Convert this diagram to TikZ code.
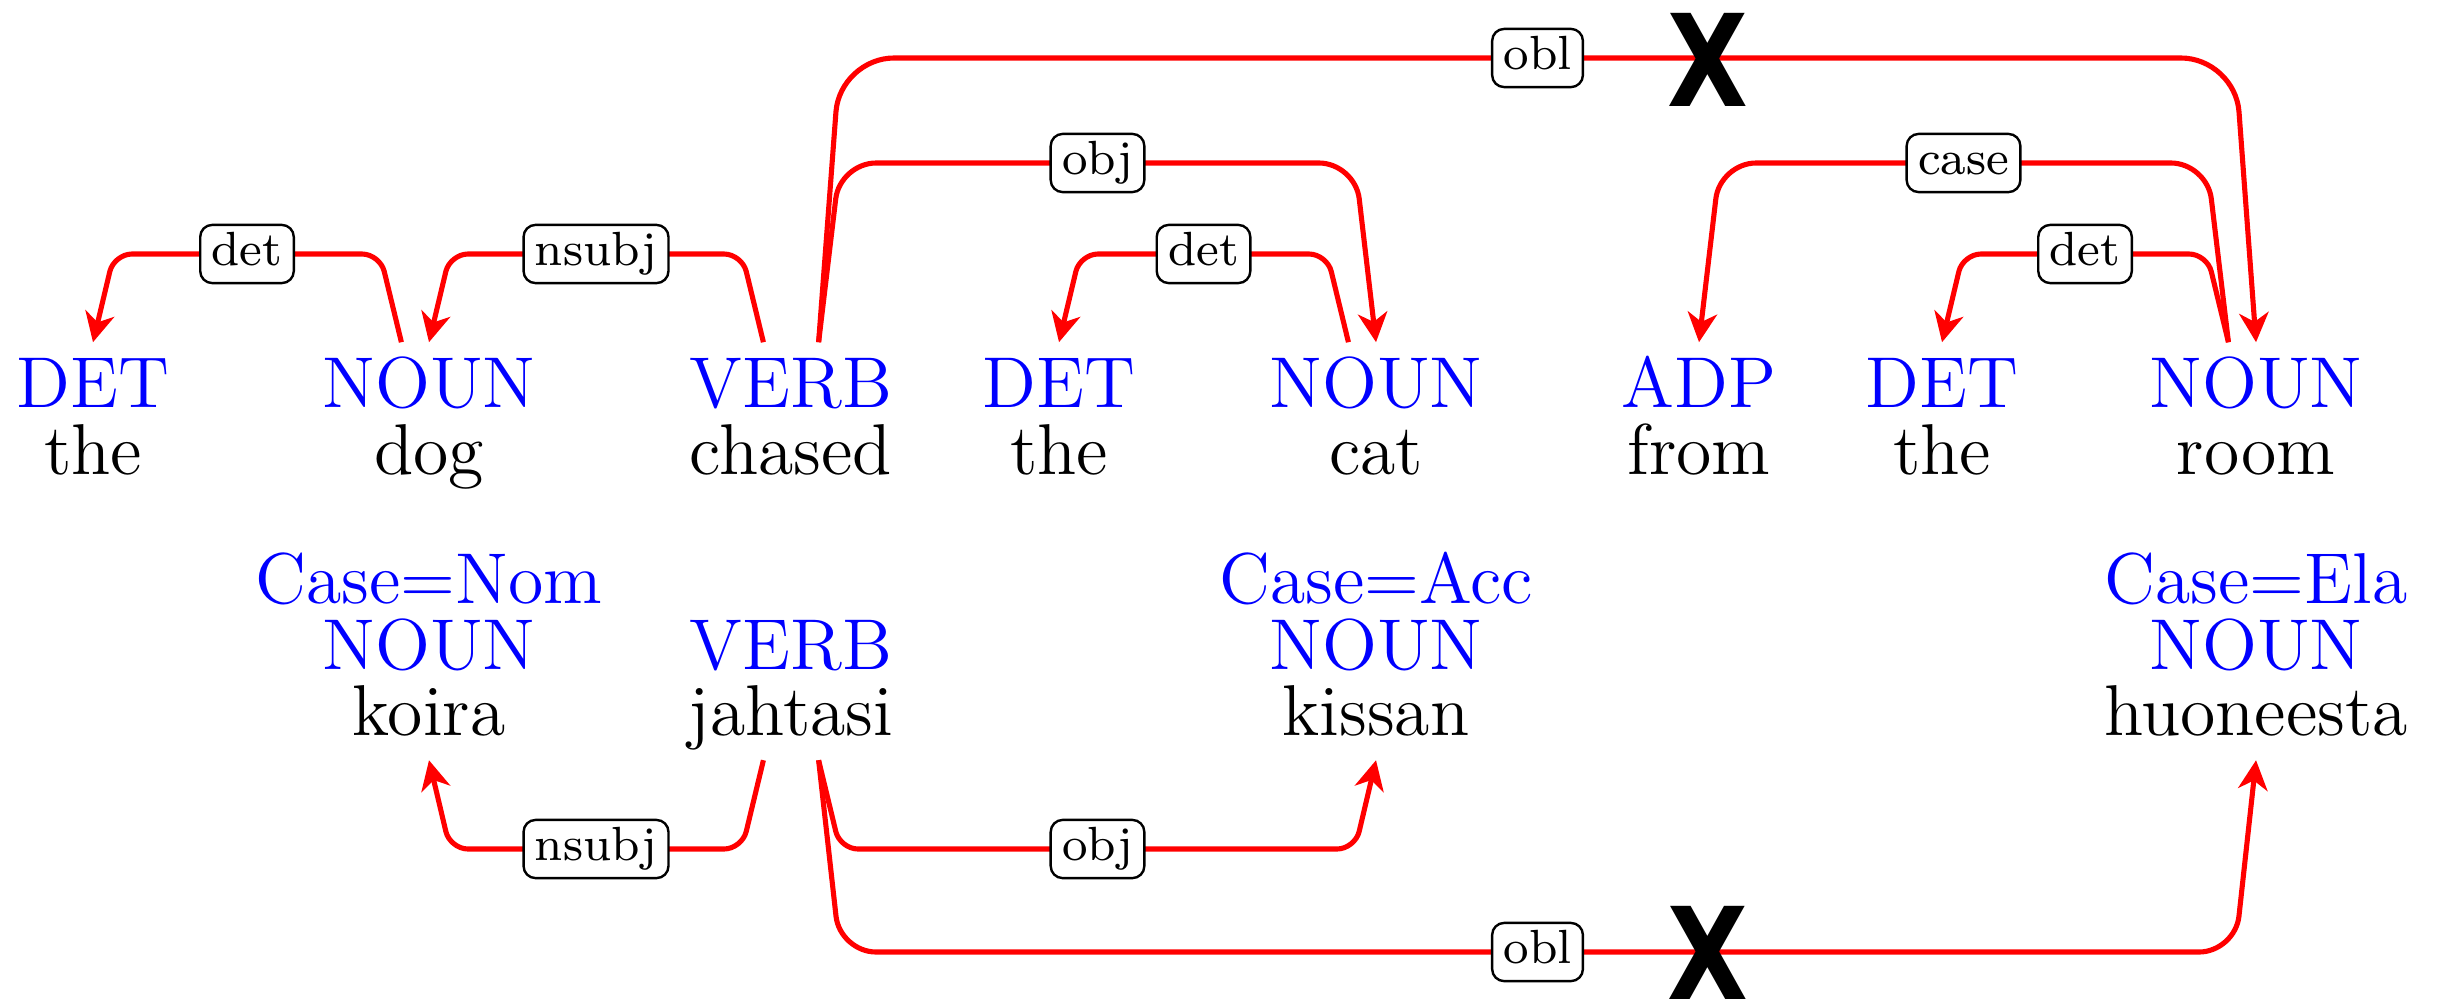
\documentclass[tikz,border=0pt]{standalone}
\usepackage{fontspec}
\newfontfamily\crossfont{DejaVu Sans}
\usetikzlibrary{arrows.meta}

\begin{document}
\begin{tikzpicture}[x=16.667pt, y=-16.667pt,
    tag/.style={blue, font=\large, anchor=base, text height=8.2pt, inner xsep=0pt, inner ysep=2.4pt},
    word/.style={font=\large, anchor=base, text depth=2.4pt, inner xsep=0pt, inner ysep=1.6pt},
    feat/.style={blue, font=\large, anchor=base},
    dep/.style={red, line width=0.85pt, -{Stealth[length=4.9pt, width=4.9pt, inset=1.5pt]}},
    deplabel/.style={draw=black, fill=white, text=black, rounded corners=2pt, font=\footnotesize, line width=0.4pt,
      inner xsep=1.9pt, inner ysep=1.2pt, text height=5.6pt, text depth=1.7pt},
    nogo/.style={font={\crossfont\bfseries\fontsize{21.3}{24}\selectfont}, inner sep=0pt}]
    \useasboundingbox (0,0) rectangle (24.38,10.02);

    % English sentence
    \node[tag] (p1) at (0.93,4.07) {DET};
    \node[word] (w1) at (0.93,4.74) {the};
    \node[tag] (p2) at (4.29,4.07) {NOUN};
    \node[word] (w2) at (4.29,4.74) {dog};
    \node[tag] (p3) at (7.91,4.07) {VERB};
    \node[word] (w3) at (7.91,4.74) {chased};
    \node[tag] (p4) at (10.59,4.07) {DET};
    \node[word] (w4) at (10.59,4.74) {the};
    \node[tag] (p5) at (13.76,4.07) {NOUN};
    \node[word] (w5) at (13.76,4.74) {cat};
    \node[tag] (p6) at (16.99,4.07) {ADP};
    \node[word] (w6) at (16.99,4.74) {from};
    \node[tag] (p7) at (19.42,4.07) {DET};
    \node[word] (w7) at (19.42,4.74) {the};
    \node[tag] (p8) at (22.56,4.07) {NOUN};
    \node[word] (w8) at (22.56,4.74) {room};

    % Finnish sentence
    \node[feat] (f2) at (4.29,6.03) {Case=Nom};
    \node[tag] (q2) at (4.29,6.69) {NOUN};
    \node[word] (b2) at (4.29,7.35) {koira};
    \node[tag] (q3) at (7.91,6.69) {VERB};
    \node[word] (b3) at (7.91,7.35) {jahtasi};
    \node[feat] (f5) at (13.76,6.03) {Case=Acc};
    \node[tag] (q5) at (13.76,6.69) {NOUN};
    \node[word] (b5) at (13.76,7.35) {kissan};
    \node[feat] (f8) at (22.56,6.03) {Case=Ela};
    \node[tag] (q8) at (22.56,6.69) {NOUN};
    \node[word] (b8) at (22.56,7.35) {huoneesta};

    % arcs above
    \draw[dep, rounded corners=3pt] ([xshift=-4.6pt]p2.north) -- (3.80,2.54) -- node[deplabel] {det} (1.14,2.54) -- (p1.north);
    \draw[dep, rounded corners=3pt] ([xshift=-4.6pt]p3.north) -- (7.42,2.54) -- node[deplabel] {nsubj} (4.50,2.54) -- (p2.north);
    \draw[dep, rounded corners=3pt] ([xshift=-4.6pt]p5.north) -- (13.27,2.54) -- node[deplabel] {det} (10.80,2.54) -- (p4.north);
    \draw[dep, rounded corners=6pt] ([xshift=4.6pt]p3.north) -- (8.40,1.63) -- node[deplabel] {obj} (13.55,1.63) -- (p5.north);
    \draw[dep, rounded corners=6pt] ([xshift=-4.6pt]p8.north) -- (22.07,1.63) -- node[deplabel] {case} (17.20,1.63) -- (p6.north);
    \draw[dep, rounded corners=3pt] ([xshift=-4.6pt]p8.north) -- (22.07,2.54) -- node[deplabel] {det} (19.63,2.54) -- (p7.north);
    \draw[dep, rounded corners=9pt] ([xshift=4.6pt]p3.north) -- (8.40,0.58) -- node[deplabel] {obl} (22.35,0.58) -- (p8.north);

    % arcs below
    \draw[dep, rounded corners=3pt] ([xshift=-4.6pt]b3.south) -- (7.42,8.49) -- node[deplabel] {nsubj} (4.50,8.49) -- (b2.south);
    \draw[dep, rounded corners=3pt] ([xshift=4.6pt]b3.south) -- (8.40,8.49) -- node[deplabel] {obj} (13.55,8.49) -- (b5.south);
    \draw[dep, rounded corners=6pt] ([xshift=4.6pt]b3.south) -- (8.40,9.52) -- node[deplabel] {obl} (22.35,9.52) -- (b8.south);

    % crossed out
    \node[nogo] (x1) at (17.08,0.595) {\scalebox{0.82}[1]{X}};
    \node[nogo] (x2) at (17.08,9.53) {\scalebox{0.82}[1]{X}};
\end{tikzpicture}
\end{document}
